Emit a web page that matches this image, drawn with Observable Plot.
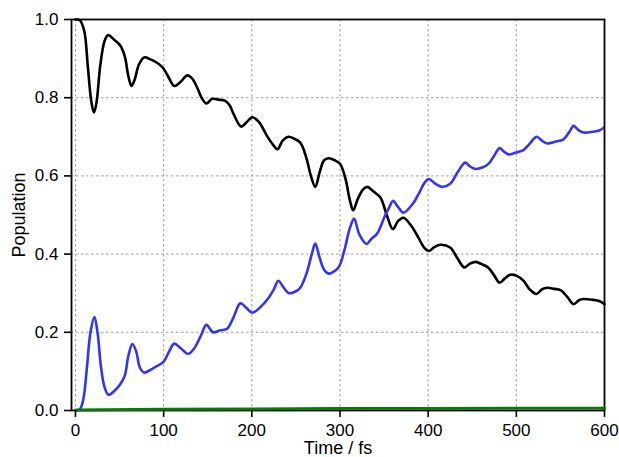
<!DOCTYPE html>
<html>
<head>
<meta charset="utf-8">
<script src="https://cdn.jsdelivr.net/npm/d3@7"></script>
<script src="https://cdn.jsdelivr.net/npm/@observablehq/plot@0.6"></script>
<style>
  html, body { margin: 0; padding: 0; background: #fff; }
  #chart svg { display: block; }
  #chart svg text { font-size: 17px; font-family: 'Liberation Sans', Arial, sans-serif; }
  #chart svg g[aria-label="x-axis label"] text,
  #chart svg g[aria-label="y-axis label"] text { font-size: 18px; }
</style>
</head>
<body>
<div id="chart"></div>
<script>
// Population of state 1 (black)
const blackT = [0,5,10,14,18,21,24,28,33,37,44,51,56,60,63.5,67,72,78,85,92,99,105,112,119,127,132,138,143,148.5,155,162,170,175,179,188,194,200.6,208,217,224,229,235,241.5,248,255,262,267,272,277,282,287,294,300,306,311,315,320,326,331,338,346,353,360,366,372,380,389,395,401,407,414,425,433,441,447,453.5,460,468,475,481,487,493,500,508,515,523,529,535,543,550,558,565,571,576,587,594,600];
const blackP = [1.0,0.998,0.97,0.88,0.79,0.762,0.79,0.88,0.945,0.96,0.948,0.933,0.905,0.855,0.83,0.845,0.885,0.903,0.898,0.89,0.877,0.855,0.83,0.84,0.857,0.85,0.826,0.80,0.785,0.797,0.795,0.792,0.78,0.76,0.726,0.737,0.75,0.738,0.703,0.68,0.668,0.69,0.70,0.695,0.685,0.645,0.60,0.572,0.61,0.64,0.645,0.64,0.631,0.595,0.54,0.512,0.54,0.565,0.572,0.56,0.544,0.50,0.464,0.485,0.493,0.475,0.442,0.418,0.408,0.418,0.424,0.417,0.39,0.366,0.375,0.38,0.375,0.366,0.345,0.327,0.338,0.347,0.345,0.332,0.31,0.298,0.31,0.314,0.311,0.308,0.29,0.272,0.282,0.285,0.283,0.28,0.272];

// Population of state 2 (blue)
const blueT = [0,5,9,13,17,21.5,25,29,33,37.5,44,51,56,60,64.5,69,73,78,88,100,106,112,119,128,135,142,148.5,156,164,172,179,187,194,200.6,210,218,225,230,236,242,250,255,262,268,272,277,282,287,298,305,311,316,322,330,336,342,351,356,360,366,372,383,391,396,401,408,416,425,433,442,447,453,462,469,475,481,486,491,500,508,515,523,529,535,545,553,560,565,570,576,587,594,599];
const blueP = [0,0.003,0.03,0.11,0.2,0.239,0.2,0.11,0.06,0.04,0.05,0.068,0.09,0.14,0.17,0.15,0.11,0.097,0.108,0.125,0.15,0.171,0.16,0.145,0.16,0.19,0.219,0.2,0.205,0.209,0.237,0.274,0.262,0.25,0.265,0.285,0.31,0.332,0.315,0.30,0.305,0.314,0.35,0.40,0.427,0.39,0.36,0.35,0.365,0.41,0.465,0.49,0.45,0.426,0.44,0.452,0.498,0.52,0.536,0.52,0.506,0.53,0.562,0.583,0.592,0.58,0.572,0.58,0.608,0.634,0.625,0.618,0.622,0.632,0.652,0.671,0.662,0.655,0.66,0.666,0.682,0.70,0.69,0.683,0.688,0.693,0.712,0.728,0.718,0.711,0.713,0.716,0.723];

// Population of state 3 (green)
const greenT = [0,100,200,300,400,500,600];
const greenP = [0.001,0.003,0.004,0.005,0.005,0.006,0.006];

const xTicks = [0,100,200,300,400,500,600];
const yTicks = [0.0,0.2,0.4,0.6,0.8,1.0];
const xLabel = "Time / fs";
const yLabel = "Population";

const black = blackT.map((t,i) => ({t, p: blackP[i]}));
const blue = blueT.map((t,i) => ({t, p: blueP[i]}));
const green = greenT.map((t,i) => ({t, p: greenP[i]}));

const chart = Plot.plot({
  width: 619,
  height: 457,
  marginLeft: 71,
  marginRight: 15,
  marginTop: 19,
  marginBottom: 47,
  style: {fontFamily: "'Liberation Sans', Arial, sans-serif", fontSize: "17px", background: "#fff", color: "#000"},
  x: {domain: [-4.5, 600]},
  y: {domain: [0, 1]},
  marks: [
    Plot.gridX(xTicks.filter(d => d < 600), {stroke: "#888", strokeOpacity: 1, strokeDasharray: "2.5,2.5", strokeWidth: 0.8}),
    Plot.gridY(yTicks.filter(d => d > 0 && d < 1), {stroke: "#888", strokeOpacity: 1, strokeDasharray: "2.5,2.5", strokeWidth: 0.8}),
    Plot.line(black, {x: "t", y: "p", stroke: "#000", strokeWidth: 2.6, curve: "catmull-rom"}),
    Plot.line(blue, {x: "t", y: "p", stroke: "#3434f4", strokeWidth: 2.6, curve: "catmull-rom"}),
    Plot.frame({stroke: "#000", strokeWidth: 1.8}),
    Plot.line(green, {x: "t", y: "p", stroke: "#0c780c", strokeWidth: 3}),
    Plot.axisX(xTicks, {tickSize: 7, tickPadding: 6, strokeWidth: 1.6, fontSize: 17, label: xLabel, labelAnchor: "center", labelOffset: 43.5, labelArrow: "none"}),
    Plot.axisY(yTicks, {tickSize: 7, tickPadding: 6, strokeWidth: 1.6, fontSize: 17, tickFormat: d3.format(".1f"), label: yLabel, labelAnchor: "center", labelOffset: 59, labelArrow: "none"})
  ]
});
document.getElementById("chart").appendChild(chart);
</script>
</body>
</html>
